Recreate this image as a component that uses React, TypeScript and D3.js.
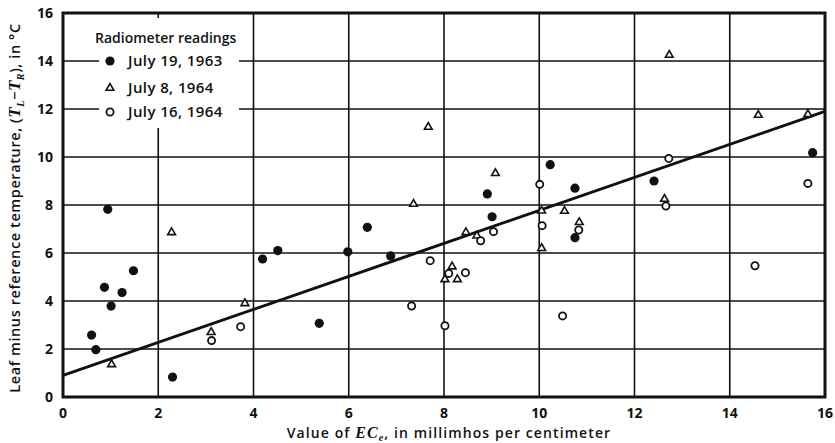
import React, { useRef, useEffect } from "react";
import { select, scaleLinear, line, symbol, symbolTriangle } from "d3";

const WIDTH = 835;
const HEIGHT = 443;

// July 19, 1963 (filled circles)
const july19X = [0.94, 0.6, 0.69, 0.87, 1.01, 1.24, 1.48, 2.3, 4.19, 4.51, 5.38, 5.98, 6.39, 6.88, 8.91, 9.01, 10.23, 10.75, 10.75, 12.41, 15.74];
const july19Y = [7.82, 2.58, 1.97, 4.57, 3.79, 4.35, 5.26, 0.83, 5.75, 6.1, 3.07, 6.05, 7.07, 5.88, 8.46, 7.51, 9.68, 8.7, 6.64, 9.0, 10.18];

// July 8, 1964 (open triangles)
const july8X = [1.02, 2.28, 3.11, 3.82, 7.36, 7.67, 8.02, 8.17, 8.28, 8.46, 8.69, 9.08, 10.05, 10.05, 10.53, 10.84, 12.63, 12.73, 14.6, 15.64];
const july8Y = [1.36, 6.86, 2.7, 3.9, 8.04, 11.25, 4.9, 5.43, 4.9, 6.86, 6.72, 9.32, 7.76, 6.2, 7.75, 7.28, 8.25, 14.25, 11.75, 11.78];

// July 16, 1964 (open circles)
const july16X = [3.12, 3.73, 7.32, 7.71, 8.02, 8.1, 8.45, 8.77, 9.04, 10.01, 10.06, 10.49, 10.83, 12.66, 12.72, 14.53, 15.64];
const july16Y = [2.35, 2.93, 3.79, 5.68, 2.97, 5.15, 5.18, 6.51, 6.89, 8.86, 7.14, 3.38, 6.96, 7.96, 9.94, 5.47, 8.9];

// fitted line
const fitX = [0, 16];
const fitY = [0.9, 11.9];

const xTicks = [0, 2, 4, 6, 8, 10, 12, 14, 16];
const yTicks = [0, 2, 4, 6, 8, 10, 12, 14, 16];

const legendLabels = ["July 19, 1963", "July 8, 1964", "July 16, 1964"];

const App = () => {
  const svgRef = useRef<SVGSVGElement>(null);

  useEffect(() => {
    const svg = select(svgRef.current);
    svg.selectAll("*").remove();

    const x = scaleLinear().domain([0, 16]).range([63, 825]);
    const y = scaleLinear().domain([0, 16]).range([397, 13]);

    const font = "'Open Sans', 'DejaVu Sans', sans-serif";
    const serif = "'Liberation Serif', serif";

    svg.append("rect").attr("width", WIDTH).attr("height", HEIGHT).attr("fill", "#fff");

    // grid
    const grid = svg.append("g").attr("stroke", "#111").attr("stroke-width", 1.6);
    grid
      .selectAll(".gx")
      .data(xTicks.slice(1, -1))
      .enter()
      .append("line")
      .attr("x1", (d) => x(d))
      .attr("x2", (d) => x(d))
      .attr("y1", y(0))
      .attr("y2", y(16));
    grid
      .selectAll(".gy")
      .data(yTicks.slice(1, -1))
      .enter()
      .append("line")
      .attr("x1", x(0))
      .attr("x2", x(16))
      .attr("y1", (d) => y(d))
      .attr("y2", (d) => y(d));

    // legend background
    svg.append("rect").attr("x", 99).attr("y", 18).attr("width", 140).attr("height", 110).attr("fill", "#fff");

    // frame
    svg
      .append("rect")
      .attr("x", x(0))
      .attr("y", y(16))
      .attr("width", x(16) - x(0))
      .attr("height", y(0) - y(16))
      .attr("fill", "none")
      .attr("stroke", "#111")
      .attr("stroke-width", 3);

    // tick labels
    svg
      .selectAll(".yt")
      .data(yTicks)
      .enter()
      .append("text")
      .attr("x", x(0) - 10)
      .attr("y", (d) => y(d))
      .attr("dy", "0.36em")
      .attr("text-anchor", "end")
      .style("font-family", font)
      .style("font-weight", "bold")
      .style("font-size", "14px")
      .attr("fill", "#111")
      .text((d) => d);

    svg
      .selectAll(".xt")
      .data(xTicks)
      .enter()
      .append("text")
      .attr("x", (d) => x(d))
      .attr("y", 418)
      .attr("text-anchor", "middle")
      .style("font-family", font)
      .style("font-weight", "bold")
      .style("font-size", "14px")
      .attr("fill", "#111")
      .text((d) => d);

    // fitted line
    const lineGen = line<number>()
      .x((d) => x(d))
      .y((d, i) => y(fitY[i]));
    svg
      .append("path")
      .attr("d", lineGen(fitX))
      .attr("fill", "none")
      .attr("stroke", "#111")
      .attr("stroke-width", 3);

    // points
    const tri = symbol().type(symbolTriangle).size(26);

    svg
      .append("g")
      .selectAll("circle")
      .data(july19X)
      .enter()
      .append("circle")
      .attr("cx", (d) => x(d))
      .attr("cy", (d, i) => y(july19Y[i]))
      .attr("r", 4.6)
      .attr("fill", "#111");

    svg
      .append("g")
      .selectAll("path")
      .data(july8X)
      .enter()
      .append("path")
      .attr("d", tri() as string)
      .attr("transform", (d, i) => `translate(${x(d)},${y(july8Y[i])})`)
      .attr("fill", "#fff")
      .attr("stroke", "#111")
      .attr("stroke-width", 1.6);

    svg
      .append("g")
      .selectAll("circle")
      .data(july16X)
      .enter()
      .append("circle")
      .attr("cx", (d) => x(d))
      .attr("cy", (d, i) => y(july16Y[i]))
      .attr("r", 3.6)
      .attr("fill", "#fff")
      .attr("stroke", "#111")
      .attr("stroke-width", 1.8);

    // legend
    const legend = svg
      .append("g")
      .style("font-family", font)
      .style("font-weight", 600)
      .style("font-size", "14px")
      .attr("fill", "#111");
    legend.append("text").attr("x", 95).attr("y", 43).text("Radiometer readings");
    const rowsY = [61, 88, 112];
    legend
      .selectAll(".lt")
      .data(legendLabels)
      .enter()
      .append("text")
      .attr("x", 128)
      .attr("y", (d, i) => rowsY[i])
      .attr("dy", "0.36em")
      .style("font-size", "15px")
      .style("letter-spacing", "0.4px")
      .text((d) => d);
    legend.append("circle").attr("cx", 110).attr("cy", rowsY[0]).attr("r", 4.6).attr("fill", "#111");
    legend
      .append("path")
      .attr("d", tri() as string)
      .attr("transform", `translate(110,${rowsY[1]})`)
      .attr("fill", "#fff")
      .attr("stroke", "#111")
      .attr("stroke-width", 1.6);
    legend
      .append("circle")
      .attr("cx", 110)
      .attr("cy", rowsY[2])
      .attr("r", 3.6)
      .attr("fill", "#fff")
      .attr("stroke", "#111")
      .attr("stroke-width", 1.8);

    // y axis title
    const yTitle = svg
      .append("text")
      .attr("transform", `translate(20,${208}) rotate(-90)`)
      .attr("text-anchor", "middle")
      .style("font-family", font)
      .style("font-weight", 600)
      .style("font-size", "14.5px")
      .style("letter-spacing", "0.6px")
      .attr("fill", "#111");
    const mathT = (sel, t) =>
      sel.append("tspan").style("font-family", serif).style("font-style", "italic").style("font-weight", "bold").style("font-size", "17px").text(t);
    yTitle.append("tspan").text("Leaf minus reference temperature, (");
    mathT(yTitle, "T");
    yTitle.append("tspan").attr("dy", 4).style("font-family", serif).style("font-style", "italic").style("font-weight", "bold").style("font-size", "10px").text("L");
    yTitle.append("tspan").attr("dy", -4).text("\u2212");
    mathT(yTitle, "T");
    yTitle.append("tspan").attr("dy", 4).style("font-family", serif).style("font-style", "italic").style("font-weight", "bold").style("font-size", "10px").text("R");
    yTitle.append("tspan").attr("dy", -4).text("), in \u00B0C");

    // x axis title
    const xTitle = svg
      .append("text")
      .attr("x", 449)
      .attr("y", 438)
      .attr("text-anchor", "middle")
      .style("font-family", font)
      .style("font-weight", 600)
      .style("font-size", "14px")
      .style("letter-spacing", "1.1px")
      .attr("fill", "#111");
    xTitle.append("tspan").text("Value of ");
    xTitle.append("tspan").style("font-family", serif).style("font-style", "italic").style("font-weight", "bold").style("font-size", "16px").text("EC");
    xTitle.append("tspan").attr("dy", 2.5).style("font-family", serif).style("font-style", "italic").style("font-weight", "bold").style("font-size", "10px").text("e");
    xTitle.append("tspan").attr("dy", -2.5).text(", in millimhos per centimeter");
  }, []);

  return (
    <svg
      ref={svgRef}
      width={WIDTH}
      height={HEIGHT}
      style={{ position: "absolute", left: 0, top: 0 }}
    />
  );
};

export default App;
